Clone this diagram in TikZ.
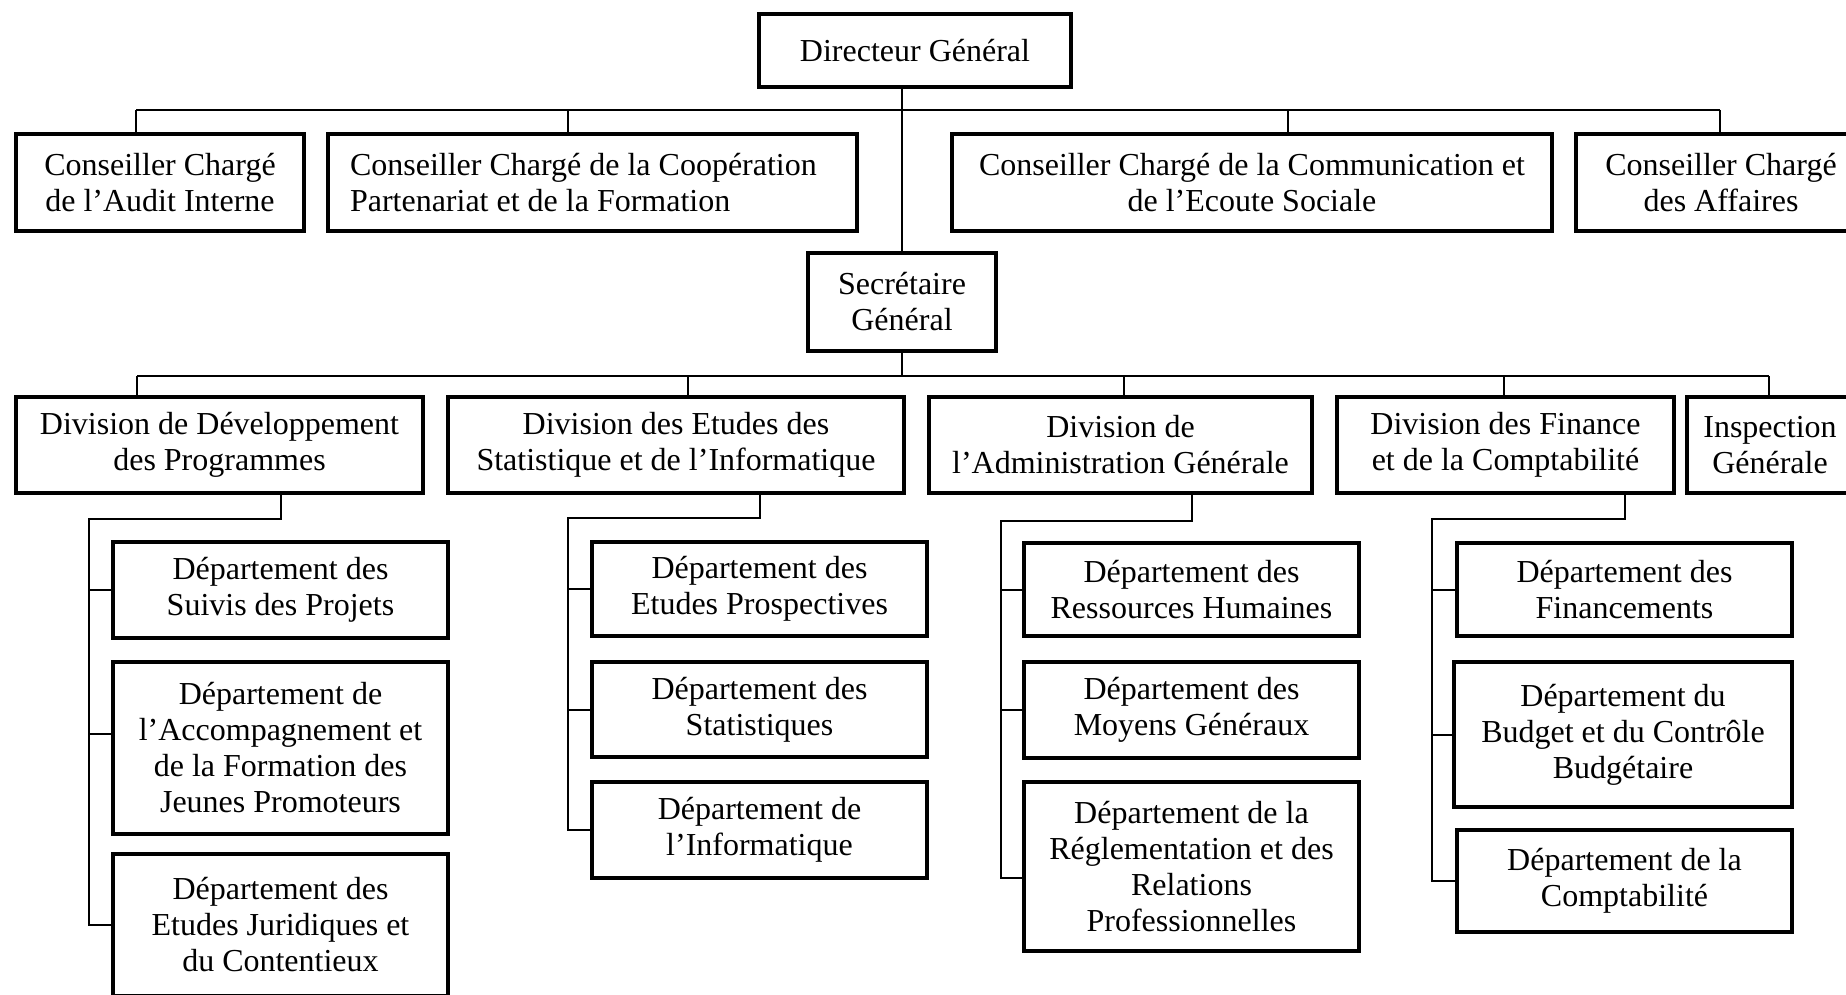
\documentclass[tikz,border=0pt]{standalone}
\usepackage{fontspec}
\setmainfont{Liberation Serif}

\tikzset{
  unit/.style={draw, line width=1.6pt, align=center, inner sep=2pt,
    font=\fontsize{16}{18}\selectfont},
  dept/.style={unit, minimum width=167.5pt},
  link/.style={line width=1pt},
}

\begin{document}
\begin{tikzpicture}[x=0.5pt, y=-0.5pt]

% Page frame (px units, origin top left)
\useasboundingbox (0,0) rectangle (1846,995);
\clip (0,0) rectangle (1846,995);

% Direction
\node[unit, minimum width=156pt, minimum height=36.5pt] (DG) at (915,50.5) {Directeur Général};
\node[unit, minimum width=94pt, minimum height=49pt] (SG) at (902,302) {Secrétaire\\Général};

% Conseillers
\node[unit, minimum width=144pt, minimum height=48.5pt] (CA1) at (160,182.5) {Conseiller Chargé\\de l’Audit Interne};
\node[unit, align=flush left, text width=242.5pt, minimum width=264.5pt, minimum height=48.5pt] (CA2) at (592.5,182.5) {Conseiller Chargé de la Coopération\\Partenariat et de la Formation};
\node[unit, minimum width=300pt, minimum height=48.5pt] (CA3) at (1252,182.5) {Conseiller Chargé de la Communication et\\de l’Ecoute Sociale};
\node[unit, minimum width=145pt, minimum height=48.5pt] (CA4) at (1721,182.5) {Conseiller Chargé\\des Affaires};

% Divisions
\node[unit, minimum width=203.5pt, minimum height=48pt] (D1) at (219.5,445) {Division de Développement\\des Programmes};
\node[unit, minimum width=228pt, minimum height=48pt] (D2) at (676,445) {Division des Etudes des\\Statistique et de l’Informatique};
\node[unit, minimum width=191.5pt, minimum height=48pt] (D3) at (1120.5,445) {Division de\\l’Administration Générale};
\node[unit, minimum width=168.5pt, minimum height=48pt] (D4) at (1505.5,445) {Division des Finance\\et de la Comptabilité};
\node[unit, minimum width=83pt, minimum height=48pt] (D5) at (1770,445) {Inspection\\Générale};

% Departements
\node[dept, minimum height=48pt] (P1) at (280.5,590) {Département des\\Suivis des Projets};
\node[dept, minimum height=86pt] (P2) at (280.5,748) {Département de\\l’Accompagnement et\\de la Formation des\\Jeunes Promoteurs};
\node[dept, minimum height=71pt] (P3) at (280.5,925) {Département des\\Etudes Juridiques et\\du Contentieux};

\node[dept, minimum height=47pt] (S1) at (759.5,589) {Département des\\Etudes Prospectives};
\node[dept, minimum height=47.5pt] (S2) at (759.5,709.5) {Département des\\Statistiques};
\node[dept, minimum height=48pt] (S3) at (759.5,830) {Département de\\l’Informatique};

\node[dept, minimum height=46.5pt] (A1) at (1191.5,589.5) {Département des\\Ressources Humaines};
\node[dept, minimum height=48pt] (A2) at (1191.5,710) {Département des\\Moyens Généraux};
\node[dept, minimum height=84.5pt] (A3) at (1191.5,866.5) {Département de la\\Réglementation et des\\Relations\\Professionnelles};

\node[dept, minimum height=46.5pt] (F1) at (1624.5,589.5) {Département des\\Financements};
\node[dept, minimum width=169pt, minimum height=72.5pt] (F2) at (1623,734.5) {Département du\\Budget et du Contrôle\\Budgétaire};
\node[dept, minimum height=51pt] (F3) at (1624.5,881) {Département de la\\Comptabilité};

% Bar points
\coordinate (t1) at (136,110);
\coordinate (t2) at (568,110);
\coordinate (t3) at (1288,110);
\coordinate (t4) at (1720,110);
\coordinate (b1) at (137,376);
\coordinate (b2) at (688,376);
\coordinate (b3) at (1124,376);
\coordinate (b4) at (1504,376);
\coordinate (b5) at (1769,376);
\coordinate (k1) at (89,519);
\coordinate (k2) at (568,518);
\coordinate (k3) at (1001,521);
\coordinate (k4) at (1432,519);
\coordinate (p2in) at ([yshift=7pt]P2.west);
\coordinate (a3in) at ([yshift=-5.75pt]A3.west);

% Trunk
\draw[link] (DG.south -| SG.north) -- (SG.north);
\draw[link] (SG.south) -- (SG.south |- b1);

% Conseillers bar
\draw[link] (t1) -- (t4);
\draw[link] (t1) -- (t1 |- CA1.north);
\draw[link] (t2) -- (t2 |- CA2.north);
\draw[link] (t3) -- (t3 |- CA3.north);
\draw[link] (t4) -- (t4 |- CA4.north);

% Divisions bar
\draw[link] (b1) -- (b5);
\draw[link] (b1) -- (b1 |- D1.north);
\draw[link] (b2) -- (b2 |- D2.north);
\draw[link] (b3) -- (b3 |- D3.north);
\draw[link] (b4) -- (b4 |- D4.north);
\draw[link] (b5) -- (b5 |- D5.north);

% Division branches
\draw[link] (D1.south -| P1.north) |- (k1) |- (P3.west);
\draw[link] (k1 |- P1.west) -- (P1.west);
\draw[link] (k1 |- p2in) -- (p2in);

\draw[link] (D2.south -| S1.north) |- (k2) |- (S3.west);
\draw[link] (k2 |- S1.west) -- (S1.west);
\draw[link] (k2 |- S2.west) -- (S2.west);

\draw[link] (D3.south -| A1.north) |- (k3) |- (a3in);
\draw[link] (k3 |- A1.west) -- (A1.west);
\draw[link] (k3 |- A2.west) -- (A2.west);

\draw[link] (D4.south -| F1.north) |- (k4) |- (F3.west);
\draw[link] (k4 |- F1.west) -- (F1.west);
\draw[link] (k4 |- F2.west) -- (F2.west);

\end{tikzpicture}
\end{document}
